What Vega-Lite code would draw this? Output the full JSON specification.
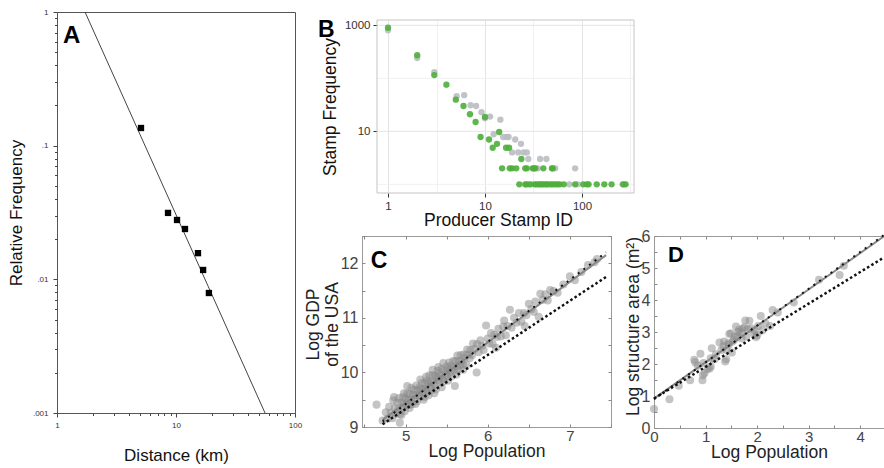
{
"$schema": "https://vega.github.io/schema/vega-lite/v6.json",
"autosize": {"type": "pad"},
"padding": {"left": 6, "top": 7, "right": 0, "bottom": 0},
"bounds": "flush",
"spacing": 67,
"config": {
  "font": "Liberation Sans",
  "view": {"stroke": null},
  "axis": {"labelFont": "Liberation Sans", "titleFont": "Liberation Sans", "titleFontWeight": "normal", "grid": false, "labelFlush": false, "labelOverlap": false}
},
"hconcat": [
{
  "width": 238, "height": 401,
  "view": {"stroke": "#555"},
  "layer": [
    {
      "data": {"values": [{"x": 1.72, "y": 1}, {"x": 56, "y": 0.001}]},
      "mark": {"type": "line", "color": "#444", "strokeWidth": 1},
      "encoding": {
        "x": {"field": "x", "type": "quantitative", "scale": {"type": "log", "domain": [1, 100]},
          "axis": {"values": [1,2,3,4,5,6,7,8,9,10,20,30,40,50,60,70,80,90,100],
            "labelExpr": "datum.value == 1 ? '1' : datum.value == 10 ? '10' : datum.value == 100 ? '100' : ''",
            "tickSize": {"condition": {"test": "datum.value == 1 || datum.value == 10 || datum.value == 100", "value": 4}, "value": 2.5},
            "domain": false, "labelFontSize": 8, "labelColor": "#333", "tickColor": "#444", "labelPadding": 4,
            "title": "Distance (km)", "titleFontSize": 17, "titleColor": "#111", "titlePadding": 18}},
        "y": {"field": "y", "type": "quantitative", "scale": {"type": "log", "domain": [0.001, 1]},
          "axis": {"values": [0.001,0.002,0.003,0.004,0.005,0.006,0.007,0.008,0.009,0.01,0.02,0.03,0.04,0.05,0.06,0.07,0.08,0.09,0.1,0.2,0.3,0.4,0.5,0.6,0.7,0.8,0.9,1],
            "labelExpr": "datum.value == 1 ? '1' : datum.value == 0.1 ? '.1' : datum.value == 0.01 ? '.01' : datum.value == 0.001 ? '.001' : ''",
            "tickSize": {"condition": {"test": "datum.value == 1 || datum.value == 0.1 || datum.value == 0.01 || datum.value == 0.001", "value": 4}, "value": 2.5},
            "domain": false, "labelFontSize": 8, "labelColor": "#333", "tickColor": "#444", "labelPadding": 5,
            "title": "Relative Frequency", "titleFontSize": 17, "titleColor": "#111", "titlePadding": 7}}
      }
    },
    {
      "data": {"values": [
        {"x": 5.08, "y": 0.1356}, {"x": 8.57, "y": 0.0314}, {"x": 10.2, "y": 0.0278}, {"x": 11.9, "y": 0.0238},
        {"x": 15.3, "y": 0.0157}, {"x": 16.9, "y": 0.01175}, {"x": 18.9, "y": 0.0079}]},
      "mark": {"type": "square", "color": "#000", "size": 40, "opacity": 1},
      "encoding": {
        "x": {"field": "x", "type": "quantitative", "scale": {"type": "log", "domain": [1, 100]}},
        "y": {"field": "y", "type": "quantitative", "scale": {"type": "log", "domain": [0.001, 1]}}
      }
    },
    {
      "data": {"values": [{"t": "A", "x": 1.123, "y": 0.586}]},
      "mark": {"type": "text", "font": "Liberation Sans", "fontSize": 24, "fontWeight": "bold", "align": "left", "baseline": "alphabetic", "color": "#000"},
      "encoding": {
        "x": {"field": "x", "type": "quantitative", "scale": {"type": "log", "domain": [1, 100]}},
        "y": {"field": "y", "type": "quantitative", "scale": {"type": "log", "domain": [0.001, 1]}},
        "text": {"field": "t"}
      }
    }
  ]
},
{
  "bounds": "flush",
  "spacing": 0,
  "vconcat": [
    {"width": 1, "height": 8, "view": {"stroke": null}, "data": {"values": []}, "mark": "point", "encoding": {}},
    {
      "width": 272, "height": 173,
      "view": {"stroke": null},
      "layer": [
        {
          "data": {"values": [{"y": 10}, {"y": 1000}]},
          "mark": {"type": "rule", "color": "#e4e4e4", "strokeWidth": 1},
          "encoding": {
            "y": {"field": "y", "type": "quantitative", "scale": {"type": "log", "domain": [0.686, 1259]}},
            "x": {"datum": 0.77, "type": "quantitative", "scale": {"type": "log", "domain": [0.539, 344]}},
            "x2": {"datum": 344}
          }
        },
        {
          "data": {"values": [{"y": 1}, {"y": 100}]},
          "mark": {"type": "rule", "color": "#f1f1f1", "strokeWidth": 1},
          "encoding": {
            "y": {"field": "y", "type": "quantitative", "scale": {"type": "log", "domain": [0.686, 1259]}},
            "x": {"datum": 0.77, "type": "quantitative", "scale": {"type": "log", "domain": [0.539, 344]}},
            "x2": {"datum": 344}
          }
        },
        {
          "data": {"values": [{"x1": 0.77, "x2": 344, "y1": 0.686, "y2": 1259}]},
          "mark": {"type": "rect", "filled": false, "color": "#c4c4c4", "strokeWidth": 1},
          "encoding": {
            "x": {"field": "x1", "type": "quantitative", "scale": {"type": "log", "domain": [0.539, 344]}},
            "x2": {"field": "x2"},
            "y": {"field": "y1", "type": "quantitative", "scale": {"type": "log", "domain": [0.686, 1259]}},
            "y2": {"field": "y2"}
          }
        },
        {
          "data": {"values": [
            {"g":"gray","x":1,"y":805},{"g":"gray","x":2,"y":242},{"g":"gray","x":3,"y":131},{"g":"gray","x":5.1,"y":46},{"g":"gray","x":6.1,"y":48},{"g":"gray","x":7.1,"y":31},{"g":"gray","x":8.1,"y":30},{"g":"gray","x":9.2,"y":23},{"g":"gray","x":10,"y":17.6},{"g":"gray","x":11.3,"y":19},{"g":"gray","x":12.3,"y":8.8},{"g":"gray","x":14.4,"y":16.6},{"g":"gray","x":15.4,"y":7.8},{"g":"gray","x":16.7,"y":7.8},{"g":"gray","x":17.5,"y":7.8},{"g":"gray","x":20.5,"y":7},{"g":"gray","x":23.5,"y":5.8},{"g":"gray","x":19,"y":4},{"g":"gray","x":22,"y":4},{"g":"gray","x":25,"y":4},{"g":"gray","x":27,"y":4},{"g":"gray","x":28,"y":3},{"g":"gray","x":37,"y":3},{"g":"gray","x":43,"y":3},{"g":"gray","x":35,"y":2},{"g":"gray","x":53,"y":2},{"g":"gray","x":85,"y":2},{"g":"gray","x":30,"y":1},{"g":"gray","x":74,"y":1},{"g":"gray","x":90,"y":1},{"g":"gray","x":262,"y":1},
            {"g":"green","x":1,"y":900},{"g":"green","x":2,"y":272},{"g":"green","x":3,"y":115},{"g":"green","x":4,"y":76},{"g":"green","x":5,"y":39.5},{"g":"green","x":6,"y":30},{"g":"green","x":7,"y":21},{"g":"green","x":8,"y":15},{"g":"green","x":9,"y":7.8},{"g":"green","x":10,"y":18.6},{"g":"green","x":11,"y":7},{"g":"green","x":12,"y":4.9},{"g":"green","x":13.3,"y":5.8},{"g":"green","x":14,"y":9.7},{"g":"green","x":16.5,"y":4.9},{"g":"green","x":17.7,"y":4.9},{"g":"green","x":23.7,"y":3},
            {"g":"green","x":15,"y":2},{"g":"green","x":18,"y":2},{"g":"green","x":19,"y":2},{"g":"green","x":21,"y":2},{"g":"green","x":26,"y":2},{"g":"green","x":27,"y":2},{"g":"green","x":31,"y":2},{"g":"green","x":32,"y":2},{"g":"green","x":33,"y":2},{"g":"green","x":40,"y":2},{"g":"green","x":49,"y":2},{"g":"green","x":50,"y":2},
            {"g":"green","x":22.6,"y":1},{"g":"green","x":26,"y":1},{"g":"green","x":27,"y":1},{"g":"green","x":29,"y":1},{"g":"green","x":32.5,"y":1},{"g":"green","x":34,"y":1},{"g":"green","x":36,"y":1},{"g":"green","x":37.5,"y":1},{"g":"green","x":39,"y":1},{"g":"green","x":41,"y":1},{"g":"green","x":43,"y":1},{"g":"green","x":45,"y":1},{"g":"green","x":48,"y":1},{"g":"green","x":50,"y":1},{"g":"green","x":53,"y":1},{"g":"green","x":56,"y":1},{"g":"green","x":59,"y":1},{"g":"green","x":65,"y":1},{"g":"green","x":85,"y":1},{"g":"green","x":103,"y":1},{"g":"green","x":112,"y":1},{"g":"green","x":117,"y":1},{"g":"green","x":142,"y":1},{"g":"green","x":170,"y":1},{"g":"green","x":202,"y":1},{"g":"green","x":267,"y":1},{"g":"green","x":282,"y":1}
          ]},
          "mark": {"type": "circle", "size": 40, "opacity": 0.9},
          "encoding": {
            "x": {"field": "x", "type": "quantitative", "scale": {"type": "log", "domain": [0.539, 344]},
              "axis": {"values": [1, 3.1623, 10, 31.623, 100, 316.23], "grid": true,
                "gridColor": {"condition": {"test": "datum.value == 1 || datum.value == 10 || datum.value == 100", "value": "#e4e4e4"}, "value": "#f1f1f1"},
                "tickOpacity": {"condition": {"test": "datum.value == 1 || datum.value == 10 || datum.value == 100", "value": 1}, "value": 0},
                "labelExpr": "datum.value == 1 ? '1' : datum.value == 10 ? '10' : datum.value == 100 ? '100' : ''",
                "domain": false, "tickSize": 4, "tickColor": "#333", "labelFontSize": 11.5, "labelColor": "#333", "labelPadding": 3,
                "title": "Producer Stamp ID", "titleFontSize": 17.5, "titleColor": "#111", "titlePadding": 0}},
            "y": {"field": "y", "type": "quantitative", "scale": {"type": "log", "domain": [0.686, 1259]},
              "axis": {"values": [10, 1000], "grid": false, "offset": -15,
                "labelExpr": "datum.value == 10 ? '10' : datum.value == 1000 ? '1000' : ''",
                "domain": false, "tickSize": 4, "tickColor": "#333", "labelFontSize": 11.5, "labelColor": "#333", "labelPadding": 3,
                "title": "Stamp Frequency", "titleFontSize": 17.5, "titleColor": "#111", "titlePadding": 5}},
            "color": {"field": "g", "type": "nominal", "scale": {"domain": ["gray", "green"], "range": ["#b9bdc1", "#4fae3b"]}, "legend": null}
          }
        },
        {
          "data": {"values": [{"t": "B", "x": 0.19, "y": 601}]},
          "mark": {"type": "text", "font": "Liberation Sans", "fontSize": 23, "fontWeight": "bold", "align": "left", "baseline": "alphabetic", "color": "#000"},
          "encoding": {
            "x": {"field": "x", "type": "quantitative", "scale": {"type": "log", "domain": [0.539, 344]}},
            "y": {"field": "y", "type": "quantitative", "scale": {"type": "log", "domain": [0.686, 1259]}},
            "text": {"field": "t"}
          }
        }
      ]
    },
    {"width": 1, "height": 43, "view": {"stroke": null}, "data": {"values": []}, "mark": "point", "encoding": {}},
    {
      "bounds": "flush",
      "spacing": 43,
      "hconcat": [
        {
          "width": 249, "height": 191,
          "view": {"stroke": "#9a9a9a"},
          "resolve": {"axis": {"x": "independent", "y": "independent"}},
          "layer": [
            {
              "data": {"values": [
{"x":4.76,"y":9.27},{"x":4.78,"y":9.15},{"x":4.80,"y":9.37},{"x":4.82,"y":9.26},{"x":4.84,"y":9.16},{"x":4.85,"y":9.49},{"x":4.87,"y":9.35},{"x":4.88,"y":9.24},{"x":4.90,"y":9.45},{"x":4.91,"y":9.32},{"x":4.92,"y":9.53},{"x":4.93,"y":9.24},{"x":4.95,"y":9.45},{"x":4.96,"y":9.35},{"x":4.97,"y":9.55},{"x":4.98,"y":9.42},{"x":4.99,"y":9.29},{"x":5.00,"y":9.52},{"x":5.01,"y":9.41},{"x":5.02,"y":9.62},{"x":5.03,"y":9.50},{"x":5.04,"y":9.40},{"x":5.05,"y":9.61},{"x":5.06,"y":9.50},{"x":5.07,"y":9.72},{"x":5.08,"y":9.42},{"x":5.09,"y":9.59},{"x":5.10,"y":9.68},{"x":5.11,"y":9.50},{"x":5.12,"y":9.59},{"x":5.13,"y":9.76},{"x":5.14,"y":9.47},{"x":5.15,"y":9.68},{"x":5.16,"y":9.59},{"x":5.17,"y":9.73},{"x":5.18,"y":9.56},{"x":5.19,"y":9.69},{"x":5.20,"y":9.81},{"x":5.21,"y":9.62},{"x":5.22,"y":9.70},{"x":5.23,"y":9.55},{"x":5.24,"y":9.80},{"x":5.25,"y":9.70},{"x":5.26,"y":9.85},{"x":5.27,"y":9.64},{"x":5.28,"y":9.81},{"x":5.29,"y":9.95},{"x":5.30,"y":9.73},{"x":5.31,"y":9.82},{"x":5.32,"y":9.68},{"x":5.33,"y":9.95},{"x":5.34,"y":9.82},{"x":5.35,"y":9.76},{"x":5.36,"y":9.94},{"x":5.37,"y":9.69},{"x":5.38,"y":9.91},{"x":5.39,"y":10.03},{"x":5.40,"y":9.86},{"x":5.41,"y":9.98},{"x":5.42,"y":9.82},{"x":5.43,"y":9.94},{"x":5.44,"y":10.06},{"x":5.45,"y":9.89},{"x":5.46,"y":10.17},{"x":5.47,"y":9.84},{"x":5.48,"y":10.03},{"x":5.49,"y":9.97},{"x":5.50,"y":10.11},{"x":5.51,"y":9.93},{"x":5.52,"y":10.06},{"x":5.53,"y":10.18},{"x":5.54,"y":10.00},{"x":5.55,"y":10.12},{"x":5.56,"y":9.93},{"x":5.57,"y":10.08},{"x":5.58,"y":10.21},{"x":5.59,"y":10.04},{"x":5.60,"y":9.75},{"x":5.61,"y":10.21},{"x":5.62,"y":10.11},{"x":5.63,"y":10.31},{"x":5.64,"y":10.05},{"x":5.65,"y":10.21},{"x":5.66,"y":10.13},{"x":5.67,"y":10.32},{"x":5.68,"y":10.20},{"x":5.70,"y":10.14},{"x":5.71,"y":10.33},{"x":5.72,"y":10.27},{"x":5.74,"y":10.14},{"x":5.75,"y":10.42},{"x":5.76,"y":10.33},{"x":5.78,"y":10.26},{"x":5.79,"y":10.41},{"x":5.81,"y":10.32},{"x":5.82,"y":10.53},{"x":5.84,"y":10.43},{"x":5.865,"y":10.00},{"x":5.87,"y":10.52},{"x":5.89,"y":10.37},{"x":5.91,"y":10.59},{"x":5.93,"y":10.49},{"x":5.95,"y":10.41},{"x":5.98,"y":10.86},{"x":6.00,"y":10.62},{"x":6.02,"y":10.53},{"x":6.04,"y":10.72},{"x":6.06,"y":10.52},{"x":6.08,"y":10.69},{"x":6.11,"y":10.65},{"x":6.13,"y":10.80},{"x":6.16,"y":10.66},{"x":6.19,"y":10.84},{"x":6.22,"y":10.68},{"x":6.24,"y":10.85},{"x":6.27,"y":11.15},{"x":6.29,"y":10.82},{"x":6.32,"y":11.00},{"x":6.35,"y":10.91},{"x":6.38,"y":11.09},{"x":6.41,"y":10.93},{"x":6.44,"y":11.09},{"x":6.47,"y":11.05},{"x":6.50,"y":11.26},{"x":6.53,"y":11.16},{"x":6.56,"y":11.11},{"x":6.62,"y":11.02},{"x":6.64,"y":11.44},{"x":6.67,"y":11.33},{"x":6.70,"y":11.43},{"x":6.73,"y":11.32},{"x":6.76,"y":11.51},{"x":6.80,"y":11.49},{"x":6.85,"y":11.46},{"x":6.92,"y":11.61},{"x":7.00,"y":11.76},{"x":7.06,"y":11.69},{"x":7.14,"y":11.84},{"x":7.22,"y":11.97},{"x":7.30,"y":12.02},{"x":7.33,"y":12.08},{"x":4.72,"y":9.12},{"x":4.95,"y":9.22},{"x":5.05,"y":9.35},{"x":5.12,"y":9.42},{"x":5.22,"y":9.50},{"x":5.28,"y":9.58},{"x":5.35,"y":9.62},{"x":5.44,"y":9.73},{"x":5.52,"y":9.85},{"x":5.62,"y":9.96},{"x":5.70,"y":10.05},{"x":5.02,"y":9.75},{"x":5.18,"y":9.87},{"x":5.33,"y":10.05},{"x":5.40,"y":10.10},{"x":4.86,"y":9.55},{"x":4.98,"y":9.62},{"x":5.25,"y":9.92},{"x":6.10,"y":10.45},{"x":6.20,"y":10.95},{"x":6.45,"y":10.85},{"x":6.58,"y":11.30},{"x":4.647,"y":9.41},{"x":4.93,"y":9.08}
              ]},
              "mark": {"type": "circle", "size": 65, "color": "#8a8a8a", "opacity": 0.5},
              "encoding": {
                "x": {"field": "x", "type": "quantitative", "scale": {"domain": [4.47, 7.5], "nice": false, "zero": false},
                  "axis": {"orient": "bottom", "values": [4.5,5,5.5,6,6.5,7,7.5], "labelExpr": "datum.value % 1 == 0 ? format(datum.value, 'd') : ''",
                    "domain": false, "tickSize": -3, "tickColor": "#888", "labelFontSize": 15, "labelColor": "#444", "labelPadding": 4,
                    "title": "Log Population", "titleFontSize": 17.5, "titleColor": "#222", "titlePadding": -1}},
                "y": {"field": "y", "type": "quantitative", "scale": {"domain": [9, 12.5], "nice": false, "zero": false},
                  "axis": {"orient": "left", "values": [9,9.5,10,10.5,11,11.5,12,12.5], "labelExpr": "datum.value % 1 == 0 ? format(datum.value, 'd') : ''",
                    "domain": false, "tickSize": -3, "tickColor": "#888", "labelFontSize": 16, "labelColor": "#444", "labelPadding": 7,
                    "title": ["Log GDP", "of the USA"], "titleFontSize": 17.5, "titleLineHeight": 18.5, "titleColor": "#222", "titlePadding": -1, "titleY": 88}}
              }
            },
            {
              "data": {"values": [{"x": 4.72, "y": 9.13}, {"x": 7.44, "y": 12.15}]},
              "mark": {"type": "line", "color": "#888", "strokeWidth": 2},
              "encoding": {
                "x": {"field": "x", "type": "quantitative", "scale": {"domain": [4.47, 7.5], "nice": false, "zero": false},
                  "axis": {"orient": "top", "values": [4.5,5,5.5,6,6.5,7,7.5], "labels": false, "domain": false, "tickSize": -3, "tickColor": "#888", "title": null}},
                "y": {"field": "y", "type": "quantitative", "scale": {"domain": [9, 12.5], "nice": false, "zero": false},
                  "axis": {"orient": "right", "values": [9,9.5,10,10.5,11,11.5,12,12.5], "labels": false, "domain": false, "tickSize": -3, "tickColor": "#888", "title": null}}
              }
            },
            {
              "data": {"values": [{"x": 4.72, "y": 9.1}, {"x": 7.44, "y": 12.2}]},
              "mark": {"type": "line", "color": "#111", "strokeWidth": 2, "strokeDash": [2, 5]},
              "encoding": {
                "x": {"field": "x", "type": "quantitative", "scale": {"domain": [4.47, 7.5], "nice": false, "zero": false}, "axis": null},
                "y": {"field": "y", "type": "quantitative", "scale": {"domain": [9, 12.5], "nice": false, "zero": false}, "axis": null}
              }
            },
            {
              "data": {"values": [{"x": 4.72, "y": 9.05}, {"x": 7.44, "y": 11.75}]},
              "mark": {"type": "line", "color": "#111", "strokeWidth": 2.5, "strokeDash": [2.5, 2.5]},
              "encoding": {
                "x": {"field": "x", "type": "quantitative", "scale": {"domain": [4.47, 7.5], "nice": false, "zero": false}, "axis": null},
                "y": {"field": "y", "type": "quantitative", "scale": {"domain": [9, 12.5], "nice": false, "zero": false}, "axis": null}
              }
            },
            {
              "data": {"values": [{"t": "C", "x": 4.577, "y": 11.91}]},
              "mark": {"type": "text", "font": "Liberation Sans", "fontSize": 23, "fontWeight": "bold", "align": "left", "baseline": "alphabetic", "color": "#000"},
              "encoding": {
                "x": {"field": "x", "type": "quantitative", "scale": {"domain": [4.47, 7.5], "nice": false, "zero": false}, "axis": null},
                "y": {"field": "y", "type": "quantitative", "scale": {"domain": [9, 12.5], "nice": false, "zero": false}, "axis": null},
                "text": {"field": "t"}
              }
            }
          ]
        },
        {
          "width": 230, "height": 192,
          "view": {"stroke": null},
          "resolve": {"axis": {"x": "independent", "y": "independent"}},
          "layer": [
            {
              "data": {"values": [
{"x":0.0,"y":0.59},{"x":0.30,"y":0.90},{"x":0.48,"y":1.32},{"x":0.70,"y":1.49},{"x":0.78,"y":2.13},{"x":0.80,"y":2.05},{"x":0.90,"y":2.32},{"x":0.94,"y":1.49},{"x":0.98,"y":1.72},{"x":0.96,"y":2.03},{"x":1.04,"y":1.84},{"x":1.08,"y":1.86},{"x":1.10,"y":1.92},{"x":0.95,"y":1.65},{"x":1.12,"y":2.49},{"x":1.10,"y":2.18},{"x":1.17,"y":2.15},{"x":1.27,"y":2.67},{"x":1.31,"y":2.44},{"x":1.36,"y":2.70},{"x":1.40,"y":2.15},{"x":1.38,"y":2.08},{"x":1.41,"y":2.44},{"x":1.44,"y":2.65},{"x":1.46,"y":2.94},{"x":1.49,"y":2.96},{"x":1.51,"y":2.36},{"x":1.52,"y":2.70},{"x":1.57,"y":2.86},{"x":1.59,"y":3.17},{"x":1.62,"y":2.86},{"x":1.65,"y":3.07},{"x":1.69,"y":2.99},{"x":1.72,"y":3.10},{"x":1.77,"y":3.36},{"x":1.79,"y":2.86},{"x":1.82,"y":3.09},{"x":1.85,"y":3.35},{"x":1.88,"y":3.12},{"x":1.93,"y":2.95},{"x":1.98,"y":2.84},{"x":2.02,"y":3.19},{"x":2.07,"y":3.50},{"x":2.16,"y":3.27},{"x":2.25,"y":3.19},{"x":2.30,"y":3.69},{"x":2.40,"y":3.61},{"x":2.71,"y":3.92},{"x":3.20,"y":4.63},{"x":3.60,"y":4.78},{"x":3.68,"y":5.07},{"x":1.35,"y":2.55},{"x":1.45,"y":2.60},{"x":1.55,"y":2.75},{"x":1.63,"y":3.00},{"x":1.70,"y":2.80},{"x":1.75,"y":3.15},{"x":1.95,"y":3.05},{"x":2.00,"y":2.90},{"x":2.10,"y":3.05},{"x":0.85,"y":1.95},{"x":1.20,"y":2.30}
              ]},
              "mark": {"type": "circle", "size": 65, "color": "#8a8a8a", "opacity": 0.5},
              "encoding": {
                "x": {"field": "x", "type": "quantitative", "scale": {"domain": [0, 4.46], "nice": false, "zero": false},
                  "axis": {"orient": "bottom", "values": [0,0.5,1,1.5,2,2.5,3,3.5,4], "labelExpr": "datum.value % 1 == 0 ? format(datum.value, 'd') : ''",
                    "domain": true, "domainColor": "#9a9a9a", "tickSize": -3, "tickColor": "#888", "labelFontSize": 15, "labelColor": "#444", "labelPadding": 4,
                    "title": "Log Population", "titleFontSize": 17.5, "titleColor": "#222", "titlePadding": -1}},
                "y": {"field": "y", "type": "quantitative", "scale": {"domain": [0, 6], "nice": false, "zero": false},
                  "axis": {"orient": "left", "values": [0,0.5,1,1.5,2,2.5,3,3.5,4,4.5,5,5.5,6], "labelExpr": "datum.value % 1 == 0 ? format(datum.value, 'd') : ''",
                    "domain": true, "domainColor": "#9a9a9a", "tickSize": -3, "tickColor": "#888", "labelFontSize": 16, "labelColor": "#444", "labelPadding": 7,
                    "title": "Log structure area (m²)", "titleFontSize": 17.5, "titleColor": "#222", "titlePadding": -1, "titleY": 90}}
              }
            },
            {
              "data": {"values": [{"x": 0, "y": 0.92}, {"x": 4.46, "y": 5.99}]},
              "mark": {"type": "line", "color": "#888", "strokeWidth": 2},
              "encoding": {
                "x": {"field": "x", "type": "quantitative", "scale": {"domain": [0, 4.46], "nice": false, "zero": false},
                  "axis": {"orient": "top", "values": [0,0.5,1,1.5,2,2.5,3,3.5,4], "labels": false, "domain": true, "domainColor": "#9a9a9a", "tickSize": -3, "tickColor": "#888", "title": null}},
                "y": {"field": "y", "type": "quantitative", "scale": {"domain": [0, 6], "nice": false, "zero": false}, "axis": null}
              }
            },
            {
              "data": {"values": [{"x": 0, "y": 0.9}, {"x": 4.46, "y": 6.03}]},
              "mark": {"type": "line", "color": "#111", "strokeWidth": 2, "strokeDash": [2, 5]},
              "encoding": {
                "x": {"field": "x", "type": "quantitative", "scale": {"domain": [0, 4.46], "nice": false, "zero": false}, "axis": null},
                "y": {"field": "y", "type": "quantitative", "scale": {"domain": [0, 6], "nice": false, "zero": false}, "axis": null}
              }
            },
            {
              "data": {"values": [{"x": 0, "y": 0.92}, {"x": 4.46, "y": 5.33}]},
              "mark": {"type": "line", "color": "#111", "strokeWidth": 2.5, "strokeDash": [2.5, 2.5]},
              "encoding": {
                "x": {"field": "x", "type": "quantitative", "scale": {"domain": [0, 4.46], "nice": false, "zero": false}, "axis": null},
                "y": {"field": "y", "type": "quantitative", "scale": {"domain": [0, 6], "nice": false, "zero": false}, "axis": null}
              }
            },
            {
              "data": {"values": [{"t": "D", "x": 0.271, "y": 5.19}]},
              "mark": {"type": "text", "font": "Liberation Sans", "fontSize": 22, "fontWeight": "bold", "align": "left", "baseline": "alphabetic", "color": "#000"},
              "encoding": {
                "x": {"field": "x", "type": "quantitative", "scale": {"domain": [0, 4.46], "nice": false, "zero": false}, "axis": null},
                "y": {"field": "y", "type": "quantitative", "scale": {"domain": [0, 6], "nice": false, "zero": false}, "axis": null},
                "text": {"field": "t"}
              }
            }
          ]
        }
      ]
    }
  ]
}
]
}
